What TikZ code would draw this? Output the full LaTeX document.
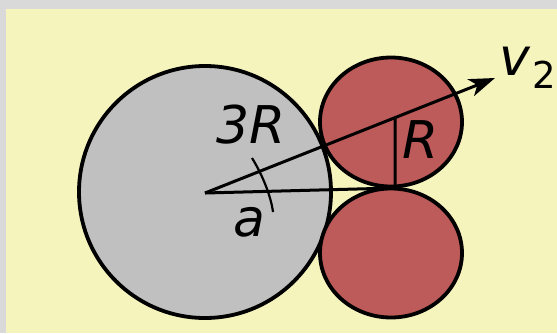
\documentclass[tikz,border=0pt]{standalone}
\usepackage{fontspec}
\usepackage{tikz}
\usepackage{xcolor}
\usetikzlibrary{arrows.meta, shapes.geometric, calc}
\newfontfamily\labelfont{DejaVu Sans}
\definecolor{frame}{HTML}{D9D9D9}
\definecolor{paper}{HTML}{F6F4BD}
\definecolor{ballgray}{HTML}{C0C0C0}
\definecolor{ballred}{HTML}{BD5A5A}

\begin{document}
\begin{tikzpicture}[
  x=1pt, y=-1pt,
  lbl/.style={inner sep=0pt, font=\labelfont\itshape\fontsize{52}{52}\selectfont},
  ball/.style={draw=black, line width=3.8pt, inner sep=0pt},
  big/.style={ball, circle, fill=ballgray, minimum size=252pt},
  small/.style={ball, ellipse, fill=ballred, minimum width=142pt, minimum height=129pt},
  ln/.style={draw=black, line width=3pt},
  ar/.style={ln, -{Stealth[length=26pt, width=18pt, inset=7pt]}}
]
\useasboundingbox (0,0) rectangle (557,333);
\fill[frame] (0,0) rectangle (557,333);
\fill[paper] (6,9) rectangle (557,333);

\node[big] (mass) at (205,192) {};
\node[small] (upper) at (391,122) {};
\node[small] (lower) at (391,253) {};

\coordinate (O) at (205,193);
\coordinate (T) at (395,188);
\coordinate (V) at (495,78);
\coordinate (F) at ($(O)!{190/290}!(V)$);
\coordinate (a1) at (252,158);
\coordinate (a2) at (273,212);

\draw[ln] (O) -- (T);
\draw[ln] (F) -- (T);
\draw[ar] (O) -- (V);
\draw[black, line width=2.2pt] (a1) .. controls (262,174) and (271,196) .. (a2);

\node[lbl] (r3) at (251,125) {3R};
\node[lbl] (r1) at (421,140) {R};
\node[lbl] (ang) at (249,222) {a};
\node[lbl, anchor=base west] (vel) at (499,75)
  {v\hspace{3pt}\raisebox{-13pt}{\fontsize{37}{37}\selectfont\upshape 2}};
\end{tikzpicture}
\end{document}
